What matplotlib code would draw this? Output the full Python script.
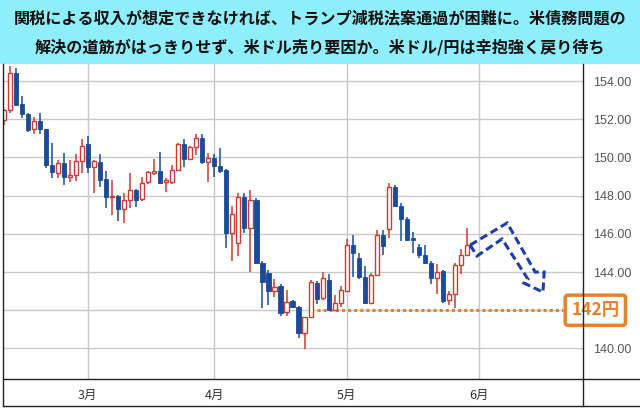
import matplotlib

matplotlib.use("Agg")

import matplotlib.pyplot as plt
import numpy as np
import pandas as pd
from matplotlib.lines import Line2D
from matplotlib.patches import Polygon, Rectangle

plt.rcParams["font.family"] = ["Noto Sans CJK JP", "DejaVu Sans"]

TITLE_LINES = [
    "関税による収入が想定できなければ、トランプ減税法案通過が困難に。米債務問題の",
    "解決の道筋がはっきりせず、米ドル売り要因か。米ドル/円は辛抱強く戻り待ち",
]

# daily USD/JPY candles, one per business day from START_DATE
START_DATE = "2025-02-11"
OPEN = [
    151.96, 152.46, 154.40, 152.80, 152.28, 151.47, 151.91, 151.47, 149.60, 149.20,
    149.69, 149.00, 149.08, 149.83, 150.70, 149.48, 149.77, 148.85, 147.94, 148.00,
    147.28, 147.77, 148.29, 147.81, 148.73, 149.20, 149.30, 148.73, 148.73, 149.34,
    150.70, 149.90, 150.56, 151.00, 149.77, 149.95, 149.57, 149.34, 146.06, 145.50,
    147.91, 146.29, 147.77, 144.46, 143.96, 143.02, 143.27, 141.93, 142.50, 142.16,
    140.83, 141.63, 143.44, 142.62, 143.58, 142.01, 142.36, 143.02, 145.41, 144.72,
    143.72, 142.39, 143.84, 145.94, 146.24, 148.47, 147.46, 146.76, 145.78, 145.29,
    144.89, 144.46, 143.67, 144.07, 142.53, 142.83, 144.37, 144.89,
]
HIGH = [
    152.56, 154.79, 154.68, 153.19, 152.35, 152.12, 152.35, 151.50, 150.73, 149.86,
    150.25, 149.86, 150.18, 150.95, 151.10, 149.86, 150.18, 149.30, 148.81, 148.05,
    148.15, 149.17, 148.37, 148.99, 149.30, 149.90, 150.30, 148.90, 149.60, 150.75,
    150.95, 150.60, 151.23, 151.23, 150.21, 150.16, 150.47, 149.40, 147.46, 148.12,
    148.12, 148.29, 147.85, 144.60, 144.10, 143.62, 143.35, 143.06, 142.55, 142.20,
    141.65, 143.58, 143.55, 144.02, 143.90, 142.80, 143.27, 145.71, 145.94, 144.98,
    144.29, 143.96, 146.20, 146.20, 148.64, 148.55, 147.60, 146.90, 146.10, 145.45,
    145.41, 144.60, 144.42, 144.10, 143.02, 144.45, 145.19, 146.29,
]
LOW = [
    151.70, 152.30, 152.69, 152.05, 151.34, 151.25, 151.25, 149.43, 148.90, 148.90,
    148.55, 148.70, 148.79, 149.20, 149.20, 148.12, 148.43, 147.33, 146.98, 146.69,
    146.58, 147.33, 147.42, 147.70, 148.60, 149.10, 148.60, 148.20, 148.60, 149.30,
    149.50, 149.85, 150.13, 149.68, 148.73, 148.99, 149.17, 145.24, 144.59, 144.85,
    146.03, 144.01, 144.40, 142.10, 142.27, 142.67, 141.70, 141.70, 142.10, 140.53,
    139.95, 141.60, 142.32, 142.55, 141.95, 141.95, 142.16, 142.95, 143.76, 143.62,
    142.35, 142.35, 143.80, 144.89, 145.77, 147.40, 145.64, 145.60, 144.98, 144.72,
    144.40, 143.37, 142.85, 142.39, 142.27, 142.10, 143.90, 144.85,
]
CLOSE = [
    152.48, 154.40, 152.75, 152.26, 151.43, 151.91, 151.47, 149.60, 149.25, 149.69,
    149.00, 149.10, 149.83, 150.60, 149.48, 149.83, 148.81, 147.94, 148.00, 147.28,
    147.77, 148.29, 147.77, 148.64, 149.25, 149.30, 148.68, 148.81, 149.34, 150.70,
    149.90, 150.56, 151.00, 149.77, 149.95, 149.57, 149.30, 146.06, 147.04, 147.91,
    146.29, 147.77, 144.46, 143.49, 143.02, 143.23, 141.87, 142.45, 142.16, 140.83,
    141.63, 143.49, 142.57, 143.67, 142.01, 142.36, 143.06, 145.41, 144.98, 143.72,
    142.39, 143.84, 145.94, 145.36, 148.43, 147.46, 146.76, 145.68, 145.68, 144.89,
    144.46, 143.67, 144.02, 142.48, 142.83, 144.37, 144.89, 145.41,
]

MONTHS = [3, 4, 5, 6]
MONTH_LABELS = ["3月", "4月", "5月", "6月"]
Y_TICKS = [140, 142, 144, 146, 148, 150, 152, 154]

SUPPORT_LEVEL = 142
SUPPORT_LABEL = "142円"
SUPPORT_FROM = 52  # business-day index where the dotted line starts

# bent forecast arrow outline, (business-day index, price)
ARROW_X = [77.5, 83.65, 88.3, 89.8, 89.6, 86.45, 87.1, 82.8, 78.65]
ARROW_Y = [145.41, 146.57, 144.0, 144.0, 142.95, 143.42, 143.63, 145.73, 144.84]

BLUE = "#1B4A9A"
RED = "#CC3B33"
ORANGE = "#E8822A"
GRID = "#C8C8C8"
CYAN = "#8EEEFA"

W, H = 640, 409
fig = plt.figure(figsize=(W / 100, H / 100), dpi=100)
ax = fig.add_axes([3 / W, 1 - 379 / H, 580 / W, 315 / H])

days = pd.bdate_range(START_DATE, periods=100)
idx = np.arange(len(OPEN))
o, h, l, c = (np.array(v) for v in (OPEN, HIGH, LOW, CLOSE))
up = c >= o
body_low = np.minimum(o, c)
body_h = np.maximum(np.abs(c - o), 0.05)

ax.vlines(idx[up], l[up], h[up], color=RED, lw=1.1, zorder=2)
ax.vlines(idx[~up], l[~up], h[~up], color=BLUE, lw=1.1, zorder=2)
ax.bar(idx[up], body_h[up], bottom=body_low[up], width=0.7,
       facecolor="white", edgecolor=RED, linewidth=1.0, zorder=3)
ax.bar(idx[~up], body_h[~up], bottom=body_low[~up], width=0.7,
       facecolor=BLUE, edgecolor=BLUE, linewidth=0.6, zorder=3)

x_left, x_right = -0.1, 96.25
ax.set_xlim(x_left, x_right)
ax.set_ylim(138.4, 154.89)

# support line and label (label box covers the 142.00 tick)
ax.plot([SUPPORT_FROM, 92.9], [SUPPORT_LEVEL, SUPPORT_LEVEL], color=ORANGE,
        lw=2.2, linestyle=(0, (1, 1)), dash_capstyle="butt", zorder=1.5)
ax.text(98.3, SUPPORT_LEVEL, SUPPORT_LABEL, ha="center", va="center",
        fontsize=12.5, fontweight="bold", color=ORANGE, clip_on=False, zorder=6,
        bbox=dict(boxstyle="round,pad=0.35,rounding_size=0.15", fc="white",
                  ec=ORANGE, lw=2.5))

ax.add_patch(Polygon(list(zip(ARROW_X, ARROW_Y)), closed=True, fill=False,
                     edgecolor="#1F3FA8", lw=2.2, linestyle=(0, (2.6, 1.3)),
                     joinstyle="miter", zorder=5))

month_pos = [int(np.argmax(days.month == m)) for m in MONTHS]
ax.set_xticks(month_pos)
ax.set_xticklabels(MONTH_LABELS)
ax.tick_params(axis="x", length=0, pad=7, labelsize=9, labelcolor="#333333")

ax.yaxis.tick_right()
ax.set_yticks(Y_TICKS)
ax.set_yticklabels(["" if v == SUPPORT_LEVEL else f"{v:.2f}" for v in Y_TICKS],
                   fontfamily="Liberation Sans")
ax.tick_params(axis="y", length=0, pad=7, labelsize=9, labelcolor="#555555")

ax.grid(True, color=GRID, lw=1.0)
ax.set_axisbelow(True)
for s in ax.spines.values():
    s.set_visible(False)

# frame lines around the chart
def fig_line(x0, y0, x1, y1, color="#222222", lw=1.0):
    fig.add_artist(Line2D([x0 / W, x1 / W], [1 - y0 / H, 1 - y1 / H],
                          color=color, lw=lw, transform=fig.transFigure))

fig_line(3, 64, 3, 406)
fig_line(3, 406, 640, 406)
fig_line(583, 64, 583, 406)
fig_line(3, 379, 640, 379)

# title band
fig.add_artist(Rectangle((0, 1 - 64 / H), 1, 64 / H, transform=fig.transFigure,
                         facecolor=CYAN, edgecolor="none", zorder=0))
for text, y in zip(TITLE_LINES, [18, 47]):
    fig.text(0.5, 1 - y / H, text, ha="center", va="center", fontsize=11.6,
             fontweight="bold", color="#111111")

fig.savefig("out.png", dpi=100)
